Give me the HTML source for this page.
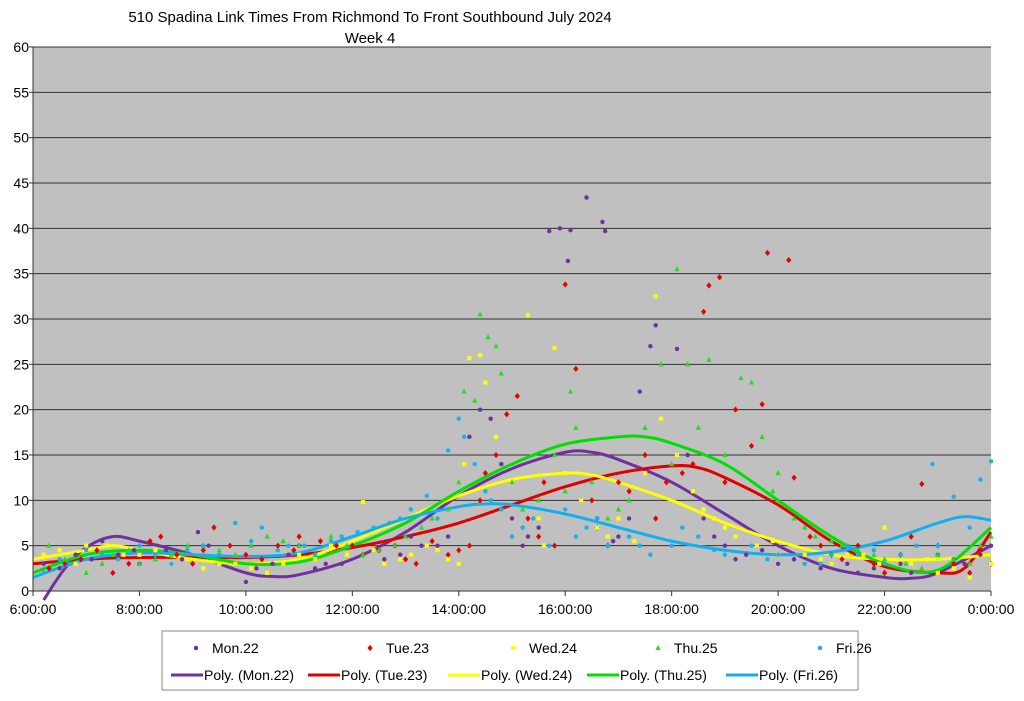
<!DOCTYPE html>
<html><head><meta charset="utf-8"><style>
body{margin:0;background:#fff;width:1024px;height:696px;overflow:hidden;font-family:"Liberation Sans",sans-serif}
svg text{font-family:"Liberation Sans",sans-serif}
</style></head><body>
<svg id="chart" width="1024" height="696" viewBox="0 0 1024 696" xmlns="http://www.w3.org/2000/svg">
<text x="370" y="22" text-anchor="middle" font-size="15">510 Spadina Link Times From Richmond To Front Southbound July 2024</text>
<text x="370" y="43" text-anchor="middle" font-size="15">Week 4</text>
<rect x="33" y="47" width="958" height="544" fill="#c0c0c0"/>
<g id="grid"></g><g id="trends"></g><g id="points"></g><g id="axes"></g>
<g id="legend">
<rect x="162" y="631" width="696" height="59" fill="#fff" stroke="#888"/>
</g>
</svg>
<script>
const yTicks=[0,5,10,15,20,25,30,35,40,45,50,55,60];
const xTickHours=[6,8,10,12,14,16,18,20,22,24];
const xTickLabels=["6:00:00","8:00:00","10:00:00","12:00:00","14:00:00","16:00:00","18:00:00","20:00:00","22:00:00","0:00:00"];
const seriesNames=["Mon.22","Tue.23","Wed.24","Thu.25","Fri.26"];
const monPts=[[6.2,3],[6.8,4],[7.3,5.5],[7.6,4],[8,3],[8.5,4.5],[9.1,6.5],[9.5,4],[10,1],[10.5,3],[11,5],[11.5,3],[12.2,4],[12.6,3.5],[13.3,5],[13.8,6],[14.2,17],[14.4,20],[14.6,19],[14.8,14],[15,8],[15.3,6],[15.7,39.7],[15.9,40],[16.05,36.4],[16.1,39.8],[16.4,43.4],[16.7,40.7],[16.75,39.7],[16.3,10],[16.6,8],[17,6],[17.4,22],[17.6,27],[17.7,29.3],[18.1,26.7],[18.3,15],[18.6,8],[19,5],[19.4,4],[20,3],[20.5,4],[21,3],[21.5,2],[22,3],[22.5,2],[23,4],[23.5,3],[24,5],
[6.5,2.5],[7.1,3.5],[7.9,4.5],[8.8,3.5],[9.3,5],[9.8,3],[10.2,2.5],[10.8,4],[11.3,2.5],[11.8,3],[12.4,4.5],[12.9,4],[13.1,6],[13.6,5],[15.2,5],[15.5,7],[16.9,5.5],[17.2,8],[18.8,6],[19.2,3.5],[19.7,4.5],[20.3,3.5],[20.8,2.5],[21.3,3],[21.8,2.5],[22.3,3],[23.3,3.5],[23.8,4]];
const tuePts=[[6.3,2.5],[6.9,3.5],[7.5,2],[8,4],[8.4,6],[9,3],[9.4,7],[10,4],[10.6,5],[11,6],[11.7,5],[12.2,4],[12.8,5],[13.2,3],[13.8,4],[14.2,5],[14.5,13],[14.7,15],[14.9,19.5],[15.1,21.5],[15.3,8],[15.6,12],[15.8,5],[16,33.8],[16.2,24.5],[16.5,10],[16.8,5],[17.2,11],[17.5,15],[17.9,12],[18.2,13],[18.6,30.8],[18.7,33.7],[18.9,34.6],[19.2,20],[19.5,16],[19.7,20.6],[19.8,37.3],[20.2,36.5],[20.3,12.5],[20.6,6],[21,4],[21.5,5],[22,2],[22.5,6],[22.7,11.8],[23,5],[23.6,2],[24,3],
[6.6,3],[7.2,4.5],[7.8,3],[8.2,5.5],[8.7,4],[9.2,4.5],[9.7,5],[10.3,3.5],[10.9,4.5],[11.4,5.5],[12,5],[12.5,4.5],[13,3.5],[13.5,5.5],[14,4.5],[14.4,10],[15.5,6],[16.6,7],[17,12],[17.7,8],[18.4,14],[19,12],[20.8,5],[21.2,3.5],[21.8,3],[22.3,4],[23.3,3],[23.8,4.5]];
const wedPts=[[6.2,4],[6.8,3],[7.4,5],[8,4],[8.6,3],[9.2,2.5],[9.8,3],[10.4,2],[11,4],[11.6,5],[12.2,9.8],[12.6,3],[13.1,4],[13.6,4.5],[14,3],[14.2,25.7],[14.4,26],[14.5,23],[14.7,17],[15,12],[15.3,30.4],[15.6,5],[15.8,26.8],[16,13],[16.3,10],[16.6,7],[17,8],[17.3,5.5],[17.7,32.5],[17.8,19],[18.1,15],[18.4,11],[18.8,8],[19.2,6],[19.6,5],[20,4],[20.5,4],[21,3],[21.6,4],[22,7],[22.5,3],[23,2],[23.6,1.5],[24,3],
[6.5,4.5],[7,5],[7.7,4],[8.3,4.5],[8.9,3.5],[9.5,3],[10.1,2.5],[10.7,3],[11.3,3.5],[11.9,4],[12.4,4.5],[12.9,3.5],[13.4,5],[13.8,3.5],[14.1,14],[15.5,8],[16.8,6],[17.5,13],[18.6,9],[19,7],[19.9,5.5],[20.8,3.5],[21.3,4],[21.9,3],[22.8,3.5],[23.3,2.5]];
const thuPts=[[6.3,5],[7,2],[7.5,4],[8,3],[8.6,4],[9.2,5],[9.8,4],[10.4,6],[11,5],[11.6,6],[12.2,4],[12.8,5],[13.3,7],[13.8,9],[14.1,22],[14.3,21],[14.4,30.5],[14.55,28],[14.7,27],[14.8,24],[15,12],[15.5,10],[15.8,15],[16.1,22],[16.2,18],[16.5,12],[16.8,8],[17.2,10],[17.5,18],[17.8,25],[18.1,35.5],[18.3,25],[18.5,18],[18.7,25.5],[19,15],[19.3,23.5],[19.5,23],[19.7,17],[20,13],[20.3,8],[20.7,6],[21.2,5],[21.8,4],[22.4,3],[23,4],[23.6,3],[24,6],
[6.6,3.5],[7.3,3],[7.8,4.5],[8.3,3.5],[8.9,5],[9.5,4.5],[10.1,5],[10.7,5.5],[11.3,4],[11.9,5],[12.5,4.5],[13,6],[13.5,8],[14,12],[15.2,9],[16,11],[17,9],[18,14],[19.9,11],[20.5,7],[21,5.5],[21.5,4.5],[22,3.5],[22.7,2.5],[23.3,3.5],[23.8,5]];
const friPts=[[6.2,2],[6.7,3],[7.3,4],[8,5],[8.6,3],[9.2,5],[9.8,7.5],[10.3,7],[10.8,5],[11.3,4],[11.8,6],[12.4,7],[12.9,8],[13.4,10.5],[13.8,15.5],[14,19],[14.1,17],[14.3,14],[14.5,11],[14.8,9],[15,6],[15.4,8],[15.7,5],[16,9],[16.4,7],[16.8,5],[17.2,6],[17.6,4],[18,5],[18.5,6],[19,4],[19.5,5],[20,4],[20.5,3],[21,4],[21.5,4],[22,3],[22.6,5],[22.9,14],[23.3,10.4],[23.6,7],[23.8,12.3],[24,14.3],
[6.5,3.5],[7,4.5],[7.6,3.5],[8.3,4],[8.9,4.5],[9.5,4],[10.1,5.5],[10.6,4.5],[11.1,5],[11.6,5.5],[12.1,6.5],[12.7,7.5],[13.1,9],[13.6,8],[14.6,10],[15.2,7],[16.2,6],[16.6,8],[17.4,5],[18.2,7],[18.8,4.5],[19.8,3.5],[20.8,3],[21.3,5],[21.8,4.5],[22.3,4],[23,5]];
const monTrend=[[6.2,-1],[6.6,2.5],[7,4.8],[7.5,6],[8,5.5],[9,4],[10,2],[10.5,1.6],[11,1.8],[12,3.5],[13,6.5],[14,10.5],[15,13.5],[16,15.3],[16.5,15.3],[17,14.5],[18,12],[19,8.5],[20,5],[21,2.5],[22,1.5],[22.5,1.4],[23,2],[24,5]];
const tueTrend=[[6,3],[7,3.5],[8,3.7],[9,3.7],[10,3.7],[11,4],[12,4.8],[13,6],[14,7.5],[15,9.5],[16,11.5],[17,13],[18,13.8],[18.5,13.6],[19,12.5],[20,9.5],[21,5.5],[22,2.7],[23,2],[23.5,2.5],[24,6.5]];
const wedTrend=[[6,3.5],[7,4.5],[7.5,5],[8,4.5],[9,3.5],[10,3],[11,3.5],[12,5.5],[13,8],[14,10.5],[15,12.3],[16,13],[16.5,12.8],[17,12],[18,10],[19,7.5],[20,5.5],[21,4],[22,3.5],[23,3.5],[24,4]];
const thuTrend=[[6,2],[7,4],[8,4.5],[9,4],[10,3],[11,3.2],[12,5],[13,7.5],[14,11],[15,14],[16,16.2],[17,17],[17.5,17],[18,16.3],[19,14],[20,10],[21,6],[22,3],[23,2.3],[24,7]];
const friTrend=[[6,1.5],[7,3.5],[8,4.2],[9,4],[10,3.8],[11,4.2],[12,6],[13,8],[14,9.3],[14.5,9.6],[15,9.5],[16,8.5],[17,7],[18,5.5],[19,4.5],[20,4],[21,4.3],[22,5.5],[23,7.5],[23.5,8.2],[24,7.8]];

const NS="http://www.w3.org/2000/svg";
const X0=33,X1=991,Y0=591,Y1=47;
const xs=h=>X0+(h-6)/18*(X1-X0);
const ys=v=>Y0-v/60*(Y0-Y1);
function mk(tag,attrs,parent){const e=document.createElementNS(NS,tag);for(const k in attrs)e.setAttribute(k,attrs[k]);parent.appendChild(e);return e;}
const grid=document.getElementById('grid'),axes=document.getElementById('axes');
yTicks.forEach(t=>{
 if(t>0){const l=mk('line',{x1:X0,x2:X1,y1:ys(t),y2:ys(t),stroke:'#333','stroke-width':1},grid);
 
 }
 const tx=mk('text',{x:X0-4,y:ys(t)+5,'text-anchor':'end','font-size':14},axes);tx.textContent=t;
 
 
 mk('line',{x1:X0-4,x2:X0,y1:ys(t),y2:ys(t),stroke:'#333'},axes);
});
xTickHours.forEach((h,i)=>{
 const tx=mk('text',{x:xs(h),y:Y0+23,'text-anchor':'middle','font-size':14},axes);tx.textContent=xTickLabels[i];
 
 
 mk('line',{x1:xs(h),x2:xs(h),y1:Y0,y2:Y0+5,stroke:'#333'},axes);
});
mk('line',{x1:X0,x2:X0,y1:Y1,y2:Y0,stroke:'#333'},axes);
mk('line',{x1:X0,x2:X1,y1:Y0,y2:Y0,stroke:'#333'},axes);

const colors=["#7030a0","#e60000","#ffff00","#22dd22","#1ab0e8"];
const lineColors=["#7030a0","#e00000","#ffff00","#00e000","#10b0f0"];
const shapes=["circle","diamond","square","triangle","circle"];
const allPts=[monPts,tuePts,wedPts,thuPts,friPts];
const allTr=[monTrend,tueTrend,wedTrend,thuTrend,friTrend];
function marker(shape,cx,cy,col,parent,s){
 if(shape==="circle")return mk('circle',{cx:cx,cy:cy,r:s*0.85,fill:col},parent);
 if(shape==="square")return mk('rect',{x:cx-s*0.8,y:cy-s*0.8,width:s*1.6,height:s*1.6,fill:col},parent);
 if(shape==="diamond")return mk('path',{d:`M${cx},${cy-s*1.2}L${cx+s},${cy}L${cx},${cy+s*1.2}L${cx-s},${cy}Z`,fill:col},parent);
 return mk('path',{d:`M${cx},${cy-s*1.2}L${cx+s},${cy+s*0.8}L${cx-s},${cy+s*0.8}Z`,fill:col},parent);
}
function smooth(pts){
 const p=pts.map(a=>[xs(a[0]),ys(a[1])]);let d=`M${p[0][0]},${p[0][1]}`;
 for(let i=0;i<p.length-1;i++){const a=p[i-1]||p[i],b=p[i],c=p[i+1],e=p[i+2]||c;
  d+=`C${b[0]+(c[0]-a[0])/6},${b[1]+(c[1]-a[1])/6} ${c[0]-(e[0]-b[0])/6},${c[1]-(e[1]-b[1])/6} ${c[0]},${c[1]}`;}
 return d;
}
const pg=document.getElementById('points'),tg=document.getElementById('trends');
allPts.forEach((arr,si)=>{arr.forEach(pt=>{
 const m=marker(shapes[si],xs(pt[0]),ys(pt[1]),colors[si],pg,2.6);
 
 
});});
allTr.forEach((arr,si)=>{
 const p=mk('path',{d:smooth(arr),fill:'none',stroke:lineColors[si],'stroke-width':3},tg);
 
 
});
const lg=document.getElementById('legend');
seriesNames.forEach((n,i)=>{
 const mx=[196,370,513,658,820][i];
 const m=marker(shapes[i],mx,648,colors[i],lg,2.6);
 
 
 const t=mk('text',{x:mx+16,y:653,'font-size':14},lg);t.textContent=n;
 
 
 const lx0=[171,308,448,587,726][i];
 const l=mk('line',{x1:lx0,x2:lx0+32,y1:675,y2:675,stroke:lineColors[i],'stroke-width':3},lg);
 
 
 const t2=mk('text',{x:lx0+33,y:680,'font-size':14},lg);t2.textContent='Poly. ('+n+')';
 
 
});
</script>
</body></html>
